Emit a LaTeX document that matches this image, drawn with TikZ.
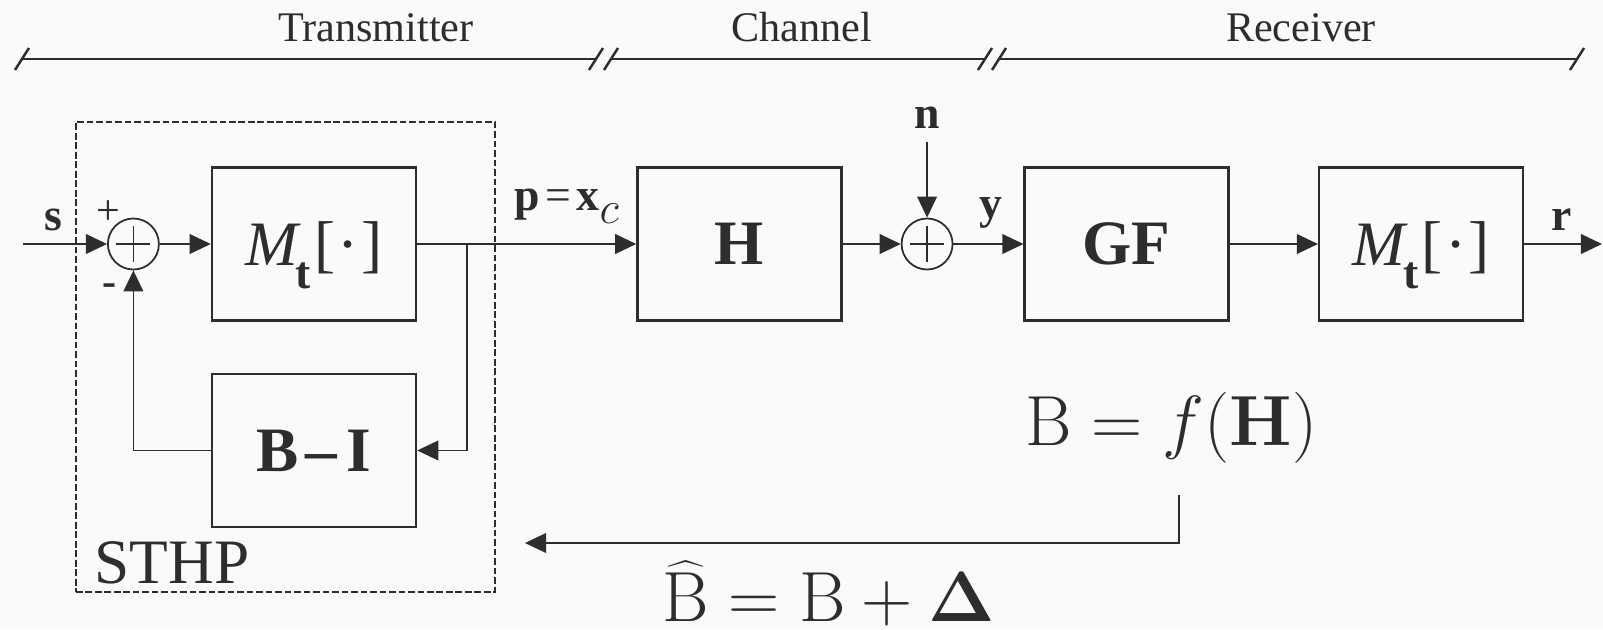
\RequirePackage{fix-cm}
\documentclass[tikz,border=0pt]{standalone}
\usepackage[no-math]{fontspec}
\setmainfont{Liberation Serif}
\usetikzlibrary{arrows.meta,positioning}
\definecolor{InkGray}{RGB}{45,45,48}
\definecolor{PaperWhite}{RGB}{250,250,249}
\tikzset{
    % Signal blocks
    block/.style={
        rectangle,
        draw=InkGray,
        line width=0.7pt,
        minimum width=2.04cm,
        minimum height=1.53cm,
        inner sep=0pt,
        text depth=0pt,
        text=InkGray,
        font=\fontsize{18}{20}\selectfont
    },
    % Summing junctions
    adder/.style={
        circle,
        draw=InkGray,
        line width=0.5pt,
        minimum size=0.51cm,
        inner sep=0pt,
        path picture={
            \draw[InkGray, line width=0.45pt]
                ([xshift=-0.17cm]path picture bounding box.center) -- ([xshift=0.17cm]path picture bounding box.center)
                ([yshift=-0.18cm]path picture bounding box.center) -- ([yshift=0.18cm]path picture bounding box.center);
        }
    },
    arrow/.style={
        -{Triangle[length=6pt,width=5.6pt]},
        line width=0.5pt,
        color=InkGray
    },
    signal/.style={
        text=InkGray,
        inner sep=0pt,
        font=\fontsize{13}{15}\selectfont
    },
    sign/.style={
        text=InkGray,
        inner sep=0pt,
        font=\fontsize{12}{14}\selectfont
    },
    span line/.style={
        line width=0.7pt,
        color=InkGray
    },
    span label/.style={
        text=InkGray,
        inner sep=0pt,
        anchor=base,
        font=\fontsize{12}{14}\selectfont
    },
    sthp box/.style={
        rectangle,
        draw=InkGray,
        line width=0.5pt,
        dash pattern=on 1.9pt off 0.8pt,
        anchor=north west,
        minimum width=4.19cm,
        minimum height=4.70cm
    },
    formula/.style={
        text=InkGray,
        inner sep=0pt,
        anchor=base west,
        font=\fontsize{20.2}{23}\selectfont
    }
}
\newcommand{\modop}{\textit{M}\kern-0.08em\raisebox{-0.35em}{\fontsize{13}{13}\selectfont\textbf{t}}\kern0.05em[\kern0.04em·\kern0.04em]}
\begin{document}
\begin{tikzpicture}
        % Page
        \fill[PaperWhite] (0,0) rectangle (16.03,-6.29);
        \useasboundingbox (0,0) rectangle (16.03,-6.29);

        % Sections on top
        \coordinate (txl) at (0.22,-0.59);
        \coordinate (txr) at (5.96,-0.59);
        \coordinate (chl) at (6.11,-0.59);
        \coordinate (chr) at (9.85,-0.59);
        \coordinate (rxl) at (9.99,-0.59);
        \coordinate (rxr) at (15.77,-0.59);
        \draw[span line] (txl) -- (txr);
        \draw[span line] (chl) -- (chr);
        \draw[span line] (rxl) -- (rxr);
        \draw[span line] ([shift={(-0.07,-0.11)}]txl) -- ([shift={(0.07,0.11)}]txl);
        \draw[span line] ([shift={(-0.07,-0.11)}]txr) -- ([shift={(0.07,0.11)}]txr);
        \draw[span line] ([shift={(-0.07,-0.11)}]chl) -- ([shift={(0.07,0.11)}]chl);
        \draw[span line] ([shift={(-0.07,-0.11)}]chr) -- ([shift={(0.07,0.11)}]chr);
        \draw[span line] ([shift={(-0.07,-0.11)}]rxl) -- ([shift={(0.07,0.11)}]rxl);
        \draw[span line] ([shift={(-0.07,-0.11)}]rxr) -- ([shift={(0.07,0.11)}]rxr);
        \node[span label] (txlabel) at (3.76,-0.41) {Transmitter};
        \node[span label] (chlabel) at (8.02,-0.41) {Channel};
        \node[span label] (rxlabel) at (13.01,-0.41) {Receiver};

        % Precoder
        \node[sthp box] (sthp) at (0.75,-1.21) {};
        \node[block] (mtx) at (3.14,-2.44) {\modop};
        \node[block, below=0.51cm of mtx] (bi) {\textbf{B\kern0.1em–\kern0.15em I}};
        \node[adder, left=0.51cm of mtx] (sum1) {};
        \node[text=InkGray, inner sep=0pt, anchor=base west, font=\fontsize{18}{20}\selectfont]
              (sthplabel) at (0.94,-5.83) {STHP};

        % Channel and receiver
        \node[block, right=2.19cm of mtx] (h) {\textbf{H}};
        \node[adder, right=0.58cm of h] (sum2) {};
        \node[block, right=0.70cm of sum2] (gf) {\textbf{GF}};
        \node[block, right=0.88cm of gf] (mrx) {\modop};

        % Signal names
        \node[signal, anchor=base] (s) at (0.53,-2.30) {\textbf{s}};
        \node[sign] (plus) at (1.08,-2.13) {+};
        \node[sign] (minus) at (1.10,-2.90) {\textbf{-}};
        \node[signal, anchor=base west] (p) at (5.14,-2.10)
              {\textbf{p}\kern0.12em=\kern0.12em\textbf{x}\raisebox{-0.3em}{$c$}};
        \node[signal, inner ysep=3.4pt, above=0.76cm of sum2] (n) {\textbf{n}};
        \node[signal, anchor=base] (y) at (9.91,-2.18) {\textbf{y}};
        \node[signal, anchor=base] (r) at (15.62,-2.30) {\textbf{r}};

        % Feedback of B
        \node[formula] (bfh) at (10.25,-4.45) {$\mathrm{B} = f(\mathbf{H})$};
        \node[formula] (bhat) at (6.62,-6.21) {$\widehat{\mathrm{B}} = \mathrm{B} + \mathbf{\Delta}$};

        % Arrows
        \coordinate (in) at (0.23,-2.44);
        \coordinate (split) at (4.67,-2.44);
        \coordinate (out) at (16.02,-2.44);
        \coordinate (fbtop) at (11.79,-4.95);
        \coordinate (fbend) at (5.25,-5.43);
        \draw[arrow] (in) -- (sum1);
        \draw[arrow] (sum1) -- (mtx);
        \draw[arrow] (mtx) -- (h);
        \draw[arrow] (split) |- (bi);
        \draw[arrow] (bi) -| (sum1);
        \draw[arrow] (h) -- (sum2);
        \draw[arrow] (n) -- (sum2);
        \draw[arrow] (sum2) -- (gf);
        \draw[arrow] (gf) -- (mrx);
        \draw[arrow] (mrx) -- (out);
        \draw[arrow] (fbtop) |- (fbend);
    \end{tikzpicture}
\end{document}
